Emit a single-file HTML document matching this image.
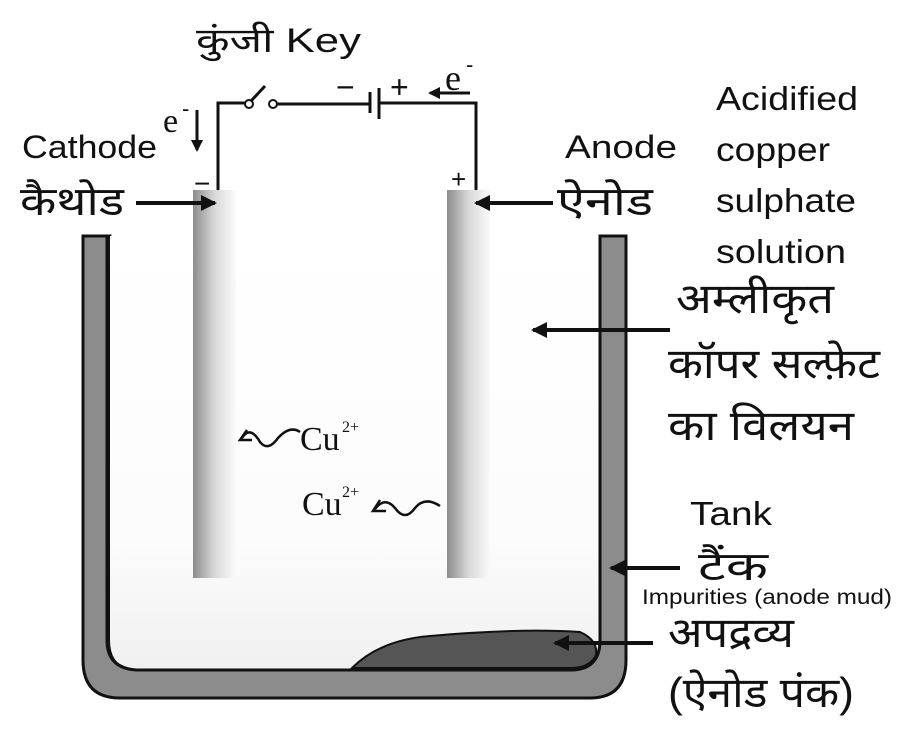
<!DOCTYPE html>
<html><head><meta charset="utf-8"><style>
body{margin:0;background:#fff}
svg text{font-family:"Liberation Sans","Noto Sans CJK SC",sans-serif;fill:#111}
.s{font-family:"Liberation Serif",serif}
</style></head><body>
<svg width="900" height="736" viewBox="0 0 900 736" xmlns="http://www.w3.org/2000/svg">
<defs>
<linearGradient id="el" x1="0" x2="1"><stop offset="0" stop-color="#8c8c8c"/><stop offset="0.5" stop-color="#d8d8d8"/><stop offset="1" stop-color="#fbfbfb"/></linearGradient>
<linearGradient id="liq" x1="0" y1="0" x2="0" y2="1"><stop offset="0" stop-color="#fff"/><stop offset="0.7" stop-color="#fcfcfc"/><stop offset="1" stop-color="#f0f0f0"/></linearGradient>
<marker id="ah" markerWidth="16" markerHeight="16" refX="14" refY="8" orient="auto" markerUnits="userSpaceOnUse"><path d="M0,0 L16,8 L0,16 Z" fill="#111"/></marker>
<marker id="as" markerWidth="12" markerHeight="12" refX="10" refY="6" orient="auto" markerUnits="userSpaceOnUse"><path d="M0,0 L12,6 L0,12 Z" fill="#111"/></marker>
</defs>
<path d="M83,236 L110,236 L110,640 Q110,670 140,670 L570,670 Q600,670 600,640 L600,236 L626,236 L626,660 Q626,698 590,698 L120,698 Q83,698 83,660 Z" fill="#8c8c8c" stroke="#111" stroke-width="3"/>
<path d="M110,640 Q110,670 140,670 L570,670 Q600,670 600,640 L600,236 L110,236 Z" fill="url(#liq)" stroke="none"/>
<path d="M107,236 L107,640 Q107,670 140,670 L570,670 Q600,670 600,640 L600,236" fill="none" stroke="#111" stroke-width="3"/>
<path d="M352,668 Q380,640 430,636 Q520,628 580,632 Q598,640 596,655 Q590,668 570,668 Z" fill="#555" stroke="#111" stroke-width="2"/>
<rect x="193" y="190" width="43" height="388" fill="url(#el)"/>
<rect x="447" y="190" width="43" height="388" fill="url(#el)"/>
<path d="M218,190 L218,103 L245,103" fill="none" stroke="#111" stroke-width="3"/>
<circle cx="249" cy="104" r="4" fill="#fff" stroke="#111" stroke-width="2"/>
<line x1="251" y1="101" x2="265" y2="86" stroke="#111" stroke-width="3"/>
<circle cx="273" cy="104" r="4" fill="#fff" stroke="#111" stroke-width="2"/>
<line x1="277" y1="104" x2="369" y2="104" stroke="#111" stroke-width="3"/>
<line x1="370" y1="92" x2="370" y2="113" stroke="#111" stroke-width="3"/>
<line x1="379" y1="88" x2="379" y2="119" stroke="#111" stroke-width="3"/>
<path d="M379,103 L476,103 L476,190" fill="none" stroke="#111" stroke-width="3"/>
<text x="336" y="98" font-size="32">−</text>
<text x="390" y="98" font-size="32">+</text>
<text x="451" y="188" font-size="26">+</text>
<text x="194" y="193" font-size="28">−</text>
<line x1="470" y1="93" x2="430" y2="93" stroke="#111" stroke-width="3" marker-end="url(#as)"/>
<text x="445" y="90" font-size="36" class="s">e</text><text x="466" y="72" font-size="22">-</text>
<text x="163" y="132" font-size="34" class="s">e</text><text x="182" y="116" font-size="22">-</text>
<line x1="197" y1="110" x2="197" y2="150" stroke="#111" stroke-width="3" marker-end="url(#as)"/>
<g lengthAdjust="spacingAndGlyphs">
<text x="196" y="52" font-size="34" textLength="165" lengthAdjust="spacingAndGlyphs">कुंजी Key</text>
<text x="22" y="158" font-size="32" textLength="135" lengthAdjust="spacingAndGlyphs">Cathode</text>
<text x="20" y="215" font-size="40" textLength="104" lengthAdjust="spacingAndGlyphs">कैथोड</text>
<text x="565" y="158" font-size="32" textLength="112" lengthAdjust="spacingAndGlyphs">Anode</text>
<text x="557" y="215" font-size="40" textLength="96" lengthAdjust="spacingAndGlyphs">ऐनोड</text>
<text x="716" y="110" font-size="33" textLength="142" lengthAdjust="spacingAndGlyphs">Acidified</text>
<text x="716" y="161" font-size="33" textLength="114" lengthAdjust="spacingAndGlyphs">copper</text>
<text x="716" y="212" font-size="33" textLength="140" lengthAdjust="spacingAndGlyphs">sulphate</text>
<text x="716" y="263" font-size="33" textLength="130" lengthAdjust="spacingAndGlyphs">solution</text>
<text x="676" y="313" font-size="42" textLength="158" lengthAdjust="spacingAndGlyphs">अम्लीकृत</text>
<text x="668" y="378" font-size="42" textLength="212" lengthAdjust="spacingAndGlyphs">कॉपर सल्फ़ेट</text>
<text x="668" y="440" font-size="42" textLength="186" lengthAdjust="spacingAndGlyphs">का विलयन</text>
<text x="690" y="525" font-size="33" textLength="82" lengthAdjust="spacingAndGlyphs">Tank</text>
<text x="698" y="580" font-size="40" textLength="70" lengthAdjust="spacingAndGlyphs">टैंक</text>
<text x="642" y="604" font-size="21" textLength="250" lengthAdjust="spacingAndGlyphs">Impurities (anode mud)</text>
<text x="668" y="647" font-size="42" textLength="126" lengthAdjust="spacingAndGlyphs">अपद्रव्य</text>
<text x="668" y="707" font-size="42" textLength="186" lengthAdjust="spacingAndGlyphs">(ऐनोड पंक)</text>
</g>
<line x1="136" y1="203" x2="215" y2="203" stroke="#111" stroke-width="4" marker-end="url(#ah)"/>
<line x1="553" y1="203" x2="476" y2="203" stroke="#111" stroke-width="4" marker-end="url(#ah)"/>
<line x1="670" y1="330" x2="533" y2="330" stroke="#111" stroke-width="4" marker-end="url(#ah)"/>
<line x1="680" y1="568" x2="611" y2="568" stroke="#111" stroke-width="4" marker-end="url(#ah)"/>
<line x1="653" y1="643" x2="555" y2="643" stroke="#111" stroke-width="4" marker-end="url(#ah)"/>
<path d="M242,438 Q250,425 260,442 Q268,452 278,438 Q290,425 300,432" fill="none" stroke="#111" stroke-width="2.5"/>
<path d="M247,430 L240,440 L252,440" fill="none" stroke="#111" stroke-width="2.5"/>
<text x="300" y="450" font-size="34" class="s">Cu</text><text x="342" y="432" font-size="16" class="s">2+</text>
<text x="302" y="515" font-size="34" class="s">Cu</text><text x="342" y="497" font-size="16" class="s">2+</text>
<path d="M375,509 Q385,496 395,508 Q405,522 415,508 Q425,496 440,506" fill="none" stroke="#111" stroke-width="2.5"/>
<path d="M380,500 L373,511 L386,511" fill="none" stroke="#111" stroke-width="2.5"/>
</svg>
</body></html>
